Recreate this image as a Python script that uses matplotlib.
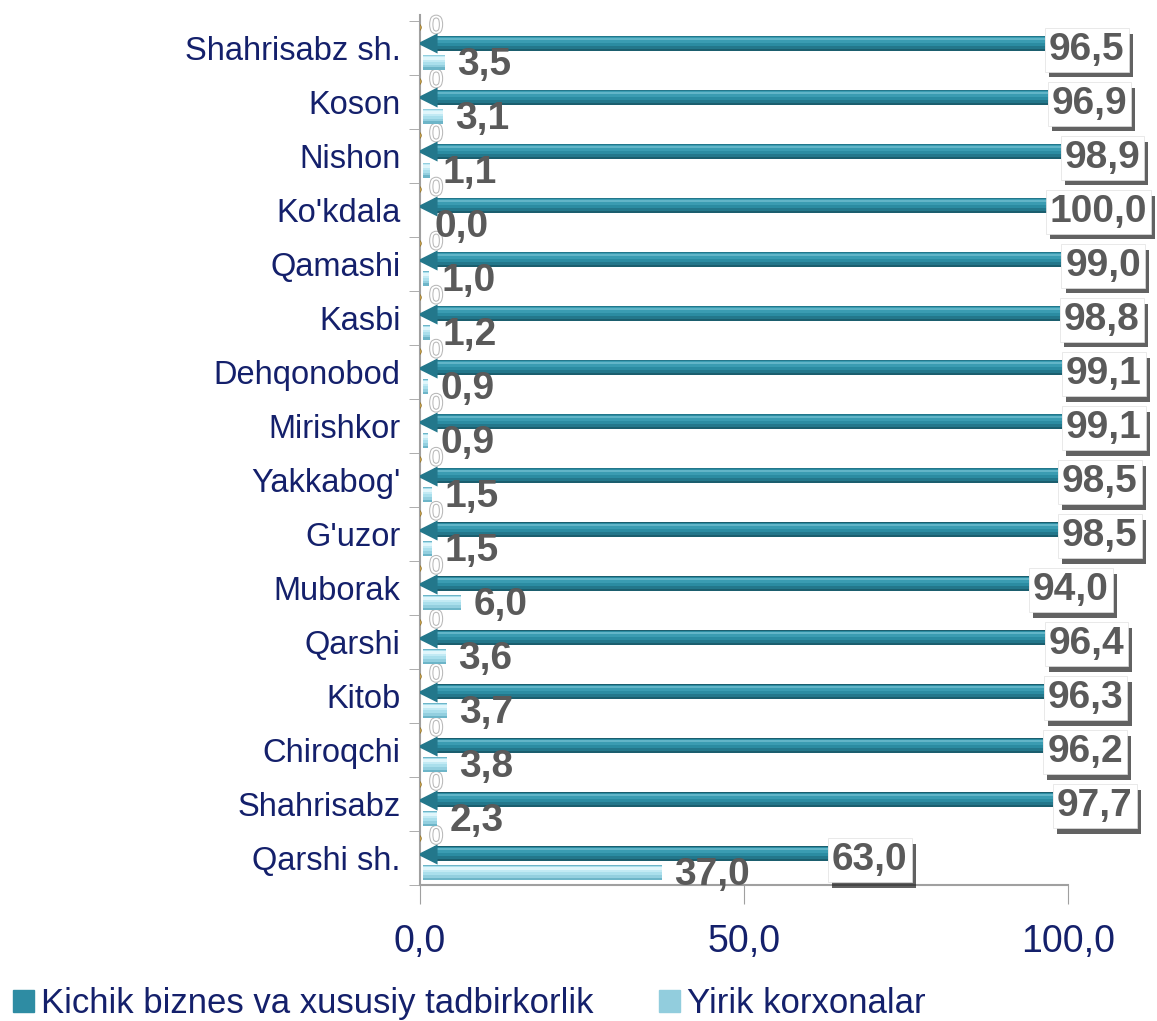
import matplotlib
matplotlib.use("Agg")
import matplotlib.pyplot as plt
import matplotlib.patheffects as pe
from matplotlib.patches import Patch
from matplotlib.transforms import offset_copy

plt.rcParams['font.family'] = ['Liberation Sans', 'DejaVu Sans']

# data (bottom to top)
districts = ["Qarshi sh.", "Shahrisabz", "Chiroqchi", "Kitob", "Qarshi", "Muborak",
             "G'uzor", "Yakkabog'", "Mirishkor", "Dehqonobod", "Kasbi", "Qamashi",
             "Ko'kdala", "Nishon", "Koson", "Shahrisabz sh."]
small_biz = [63.0, 97.7, 96.2, 96.3, 96.4, 94.0, 98.5, 98.5, 99.1, 99.1, 98.8, 99.0,
             100.0, 98.9, 96.9, 96.5]
large_ent = [37.0, 2.3, 3.8, 3.7, 3.6, 6.0, 1.5, 1.5, 0.9, 0.9, 1.2, 1.0,
             0.0, 1.1, 3.1, 3.5]
other = [0] * len(districts)

xticks = [0, 50, 100]
xticklabels = ["0,0", "50,0", "100,0"]

# cylinder shading, outer band first
dark_bands = [(0.28, "#1B5E6E"), (0.23, "#23778B"), (0.17, "#2B8CA2"),
              (0.10, "#3A9CB2"), (0.04, "#62B5C8")]
light_bands = [(0.27, "#6DB5C8"), (0.22, "#93CFDF"), (0.16, "#AADFEC"),
               (0.10, "#C2EAF4"), (0.05, "#E0F6FB")]
navy = "#14206B"
grey_txt = "#5A5A5A"


def fmt(v):
    return f"{v:.1f}".replace(".", ",")


fig = plt.figure(figsize=(11.57, 10.21), dpi=100)
ax = fig.add_axes([0.363, 0.133, 0.56, 0.852])
ax.set_xlim(0, 100)
ax.set_ylim(-0.5, 15.6)

y = list(range(len(districts)))
y_dark = [v + 0.08 for v in y]
y_light = [v - 0.27 for v in y]
y_other = [v + 0.38 for v in y]

# dark series: cylinder with a cone tip on the left
for h, c in dark_bands:
    shift = (0.28 - h) * 0.35
    ax.barh([v + shift for v in y_dark], [v - 2.2 for v in small_biz], left=2.2,
            height=h, color=c, zorder=3, linewidth=0)
ax.scatter([1.1] * len(y), y_dark, marker="<", s=210, color="#23778B", zorder=3,
           linewidths=0)

# light series
for h, c in light_bands:
    shift = (0.27 - h) * 0.35
    ax.barh([v + shift for v in y_light], large_ent, left=0.4, height=h, color=c,
            zorder=3, linewidth=0)

# zero series: small gold discs with "0" labels
ax.scatter([-0.4] * len(y), y_other, marker="o", s=30, color="#C9A24A", zorder=3,
           edgecolors="#8A6A20", linewidths=0.5)
for yy, v in zip(y_other, other):
    ax.text(2.5, yy + 0.02, str(v), fontsize=18, color="white", ha="center", va="center",
            zorder=2, path_effects=[pe.withStroke(linewidth=1.5, foreground="#B8B8B8")])

# value labels
shadow_tr = offset_copy(ax.transData, fig=fig, x=3, y=-4, units="points")
boxed = []
for yy, v in zip(y_dark, small_biz):
    t1 = ax.text(v + 0.6, yy - 0.12, fmt(v), transform=shadow_tr, fontsize=28,
                 fontweight="bold", color="#202020", va="center", ha="left", zorder=5,
                 bbox=dict(boxstyle="square,pad=0.1", fc="#202020", ec="none", alpha=0.7))
    t2 = ax.text(v + 0.6, yy - 0.12, fmt(v), fontsize=28, fontweight="bold",
                 color=grey_txt, va="center", ha="left", zorder=6,
                 bbox=dict(boxstyle="square,pad=0.1", fc="white", ec="#E0E0E0", lw=0.5))
    boxed.append((t1, t2))
for yy, v in zip(y_light, large_ent):
    ax.text(v + 2.3, yy - 0.05, fmt(v), fontsize=28, fontweight="bold", color=grey_txt,
            va="center", ha="left", zorder=6)

# axes styling
ax.set_yticks(y)
ax.set_yticklabels(districts, fontsize=23.5, color=navy)
ax.set_yticks([v - 0.5 for v in y] + [15.5], minor=True)
ax.tick_params(axis="y", which="major", length=0, pad=14)
ax.tick_params(axis="y", which="minor", length=8, color="#A0A0A0")
ax.set_xticks(xticks)
ax.set_xticklabels(xticklabels, fontsize=27, color=navy)
ax.tick_params(axis="x", length=14, color="#A0A0A0", pad=14)
for s in ["top", "right"]:
    ax.spines[s].set_visible(False)
for s in ["left", "bottom"]:
    ax.spines[s].set_color("#A0A0A0")
    ax.spines[s].set_linewidth(1.5)
ax.spines["left"].set_bounds(-0.5, 15.6)

handles = [Patch(color="#2E8CA3", label="Kichik biznes va xususiy tadbirkorlik"),
           Patch(color="#92CDDD", label="Yirik korxonalar")]
fig.legend(handles=handles, loc="lower left", bbox_to_anchor=(-0.016, -0.03), ncol=2,
           frameon=False, fontsize=25, handlelength=0.6, handleheight=0.6,
           handletextpad=0.2, columnspacing=1.9, labelcolor=navy)

# pull boxed labels back inside the figure if they run past the right edge
fig.canvas.draw()
renderer = fig.canvas.get_renderer()
fig_w = fig.bbox.width
for t1, t2 in boxed:
    bb = t2.get_window_extent(renderer)
    over = bb.x1 + 10 - fig_w
    if over > 0:
        dx = over / ax.bbox.width * 100
        for t in (t1, t2):
            x0, y0 = t.get_position()
            t.set_position((x0 - dx, y0))

fig.savefig("out.png", dpi=100)
